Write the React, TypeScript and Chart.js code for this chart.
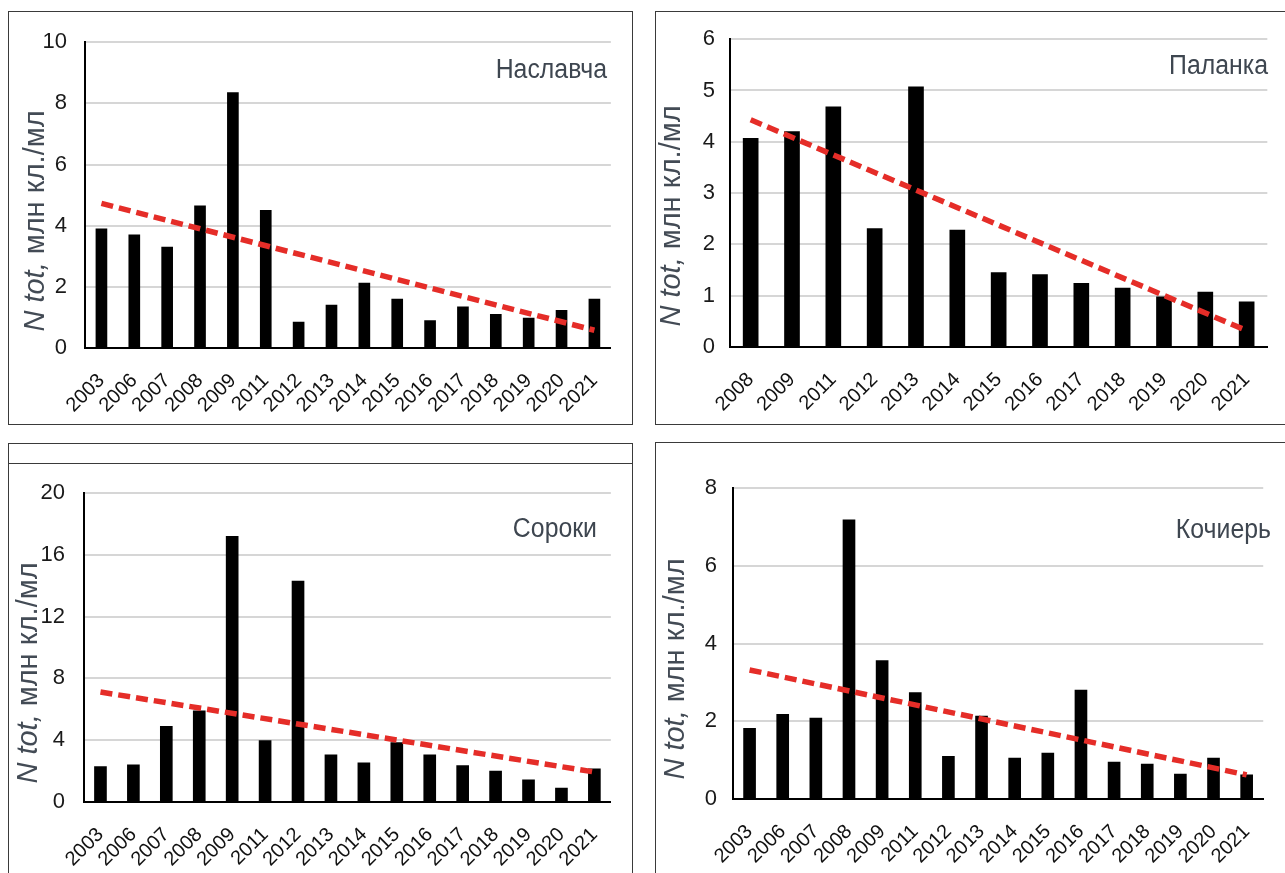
import React, { useEffect, useRef } from "react";
import { Chart, registerables } from "chart.js";

Chart.register(...registerables);

// ---------- data ----------
const yearsLong = ["2003", "2006", "2007", "2008", "2009", "2011", "2012", "2013", "2014", "2015", "2016", "2017", "2018", "2019", "2020", "2021"];
const yearsPalanka = ["2008", "2009", "2011", "2012", "2013", "2014", "2015", "2016", "2017", "2018", "2019", "2020", "2021"];

const naslavchaValues = [3.9, 3.7, 3.3, 4.65, 8.35, 4.5, 0.85, 1.4, 2.12, 1.6, 0.9, 1.35, 1.1, 0.98, 1.23, 1.6];
const naslavchaTrend = [4.73, 0.58];

const palankaValues = [4.07, 4.2, 4.68, 2.31, 5.07, 2.28, 1.45, 1.41, 1.24, 1.15, 0.98, 1.07, 0.88];
const palankaTrend = [4.43, 0.32];

const sorokiValues = [2.3, 2.4, 4.9, 5.9, 17.2, 3.97, 14.3, 3.06, 2.54, 3.84, 3.06, 2.35, 2.0, 1.43, 0.9, 2.15];
const sorokiTrend = [7.12, 1.94];

const kochierValues = [1.82, 2.18, 2.08, 7.18, 3.56, 2.74, 1.1, 2.13, 1.05, 1.18, 2.8, 0.95, 0.9, 0.64, 1.05, 0.62];
const kochierTrend = [3.32, 0.62];

const yTitleItalic = "N tot,";
const yTitleNormal = " млн кл./мл";

const FONT = "'Liberation Sans', Arial, sans-serif";
const PAGE_W = 1285;
const PAGE_H = 873;

type PanelCfg = {
  name: string;
  labels: string[];
  values: number[];
  trend: number[];
  yMax: number;
  yStep: number;
  box: { x: number; y: number; w: number; h: number };
  area: { l: number; t: number; r: number; b: number };
  barW: number;
  tickGap: number;
  yTitle: { cx: number; cy: number };
  nameAt: { right: number; baseline: number };
  innerLine?: number;
};

const panels: PanelCfg[] = [
  {
    name: "Наславча",
    labels: yearsLong,
    values: naslavchaValues,
    trend: naslavchaTrend,
    yMax: 10,
    yStep: 2,
    box: { x: 8, y: 11, w: 625, h: 414 },
    area: { l: 85, t: 42, r: 613, b: 348 },
    barW: 11,
    tickGap: 18,
    yTitle: { cx: 36, cy: 221 },
    nameAt: { right: 607, baseline: 78 },
  },
  {
    name: "Паланка",
    labels: yearsPalanka,
    values: palankaValues,
    trend: palankaTrend,
    yMax: 6,
    yStep: 1,
    box: { x: 655, y: 11, w: 700, h: 414 },
    area: { l: 730, t: 33, r: 1275, b: 347 },
    barW: 15,
    tickGap: 15,
    yTitle: { cx: 672, cy: 216 },
    nameAt: { right: 1268, baseline: 74 },
  },
  {
    name: "Сороки",
    labels: yearsLong,
    values: sorokiValues,
    trend: sorokiTrend,
    yMax: 20,
    yStep: 4,
    box: { x: 8, y: 443, w: 625, h: 500 },
    area: { l: 84, t: 493, r: 612, b: 802 },
    barW: 12,
    tickGap: 19,
    yTitle: { cx: 29, cy: 673 },
    nameAt: { right: 597, baseline: 537 },
    innerLine: 463,
  },
  {
    name: "Кочиерь",
    labels: yearsLong,
    values: kochierValues,
    trend: kochierTrend,
    yMax: 8,
    yStep: 2,
    box: { x: 655, y: 442, w: 700, h: 500 },
    area: { l: 733, t: 488, r: 1273, b: 799 },
    barW: 12,
    tickGap: 16,
    yTitle: { cx: 676, cy: 669 },
    nameAt: { right: 1271, baseline: 538 },
  },
];

function Panel({ cfg }: { cfg: PanelCfg }) {
  const ref = useRef<HTMLCanvasElement | null>(null);
  const cx0 = cfg.box.x;
  const cy0 = cfg.box.y;
  const cw = Math.min(cfg.box.w, PAGE_W - cx0);
  const ch = Math.min(cfg.box.h, PAGE_H - cy0);

  useEffect(() => {
    if (!ref.current) return;
    const n = cfg.labels.length;
    const trendData = cfg.labels.map((_, i) =>
      i === 0 ? cfg.trend[0] : i === n - 1 ? cfg.trend[1] : null
    );

    const textPlugin = {
      id: "panelTexts",
      afterDraw(chart: any) {
        const ctx = chart.ctx as CanvasRenderingContext2D;
        ctx.save();
        // station name (condensed look)
        ctx.fillStyle = "#3e4650";
        ctx.font = `27px ${FONT}`;
        ctx.textAlign = "right";
        ctx.textBaseline = "alphabetic";
        ctx.translate(cfg.nameAt.right - cx0, cfg.nameAt.baseline - cy0);
        ctx.scale(0.92, 1);
        ctx.fillText(cfg.name, 0, 0);
        ctx.restore();

        // y axis title
        ctx.save();
        const fi = `italic 29px ${FONT}`;
        const fn = `29px ${FONT}`;
        ctx.font = fi;
        const w1 = ctx.measureText(yTitleItalic).width;
        ctx.font = fn;
        const w2 = ctx.measureText(yTitleNormal).width;
        const total = w1 + w2;
        ctx.translate(cfg.yTitle.cx - cx0, cfg.yTitle.cy - cy0);
        ctx.rotate(-Math.PI / 2);
        ctx.textAlign = "left";
        ctx.textBaseline = "middle";
        ctx.fillStyle = "#434b55";
        ctx.font = fi;
        ctx.fillText(yTitleItalic, -total / 2, 0);
        ctx.font = fn;
        ctx.fillText(yTitleNormal, -total / 2 + w1, 0);
        ctx.restore();
      },
    };

    const chart = new Chart(ref.current, {
      type: "bar",
      data: {
        labels: cfg.labels,
        datasets: [
          {
            type: "line",
            data: trendData,
            borderColor: "#e52d28",
            borderWidth: 5.5,
            borderDash: [12, 6],
            pointRadius: 0,
            spanGaps: true,
            fill: false,
            tension: 0,
            order: 0,
          } as any,
          {
            type: "bar",
            data: cfg.values,
            backgroundColor: "#000000",
            barThickness: cfg.barW,
            order: 1,
          } as any,
        ],
      },
      options: {
        animation: false,
        responsive: false,
        maintainAspectRatio: false,
        devicePixelRatio: 1,
        layout: {
          padding: {
            top: cfg.area.t - cy0,
            right: cw - (cfg.area.r - cx0),
            left: 0,
            bottom: 0,
          },
        },
        plugins: {
          legend: { display: false },
          tooltip: { enabled: false },
          title: { display: false },
        },
        scales: {
          x: {
            offset: true,
            grid: { display: false, drawTicks: false },
            border: { display: true, color: "#000", width: 2 },
            ticks: {
              font: { family: FONT, size: 20 },
              color: "#111111",
              maxRotation: 45,
              minRotation: 45,
              padding: 21,
              autoSkip: false,
            },
            afterFit: (s: any) => {
              s.height = ch - (cfg.area.b - cy0);
            },
          },
          y: {
            min: 0,
            max: cfg.yMax,
            ticks: {
              stepSize: cfg.yStep,
              font: { family: FONT, size: 22 },
              color: "#1a1a1a",
              padding: cfg.tickGap,
            },
            grid: { color: "#d6d6d6", lineWidth: 2, drawTicks: false },
            border: { display: true, color: "#000", width: 2 },
            afterFit: (s: any) => {
              s.width = cfg.area.l - cx0;
            },
          },
        },
      } as any,
      plugins: [textPlugin],
    });
    return () => chart.destroy();
  }, [cfg]);

  return (
    <>
      <div
        style={{
          position: "absolute",
          left: cfg.box.x,
          top: cfg.box.y,
          width: cfg.box.w,
          height: cfg.box.h,
          border: "1.5px solid #3a3a3a",
          boxSizing: "border-box",
        }}
      />
      {cfg.innerLine !== undefined && (
        <div
          style={{
            position: "absolute",
            left: cfg.box.x,
            top: cfg.innerLine,
            width: cfg.box.w,
            height: 0,
            borderTop: "1.5px solid #3a3a3a",
          }}
        />
      )}
      <canvas
        ref={ref}
        width={cw}
        height={ch}
        style={{ position: "absolute", left: cx0, top: cy0, width: cw, height: ch }}
      />
    </>
  );
}

export default function App() {
  return (
    <div
      style={{
        position: "fixed",
        left: 0,
        top: 0,
        width: PAGE_W,
        height: PAGE_H,
        overflow: "hidden",
        background: "#ffffff",
      }}
    >
      {panels.map((p) => (
        <Panel key={p.name} cfg={p} />
      ))}
    </div>
  );
}
